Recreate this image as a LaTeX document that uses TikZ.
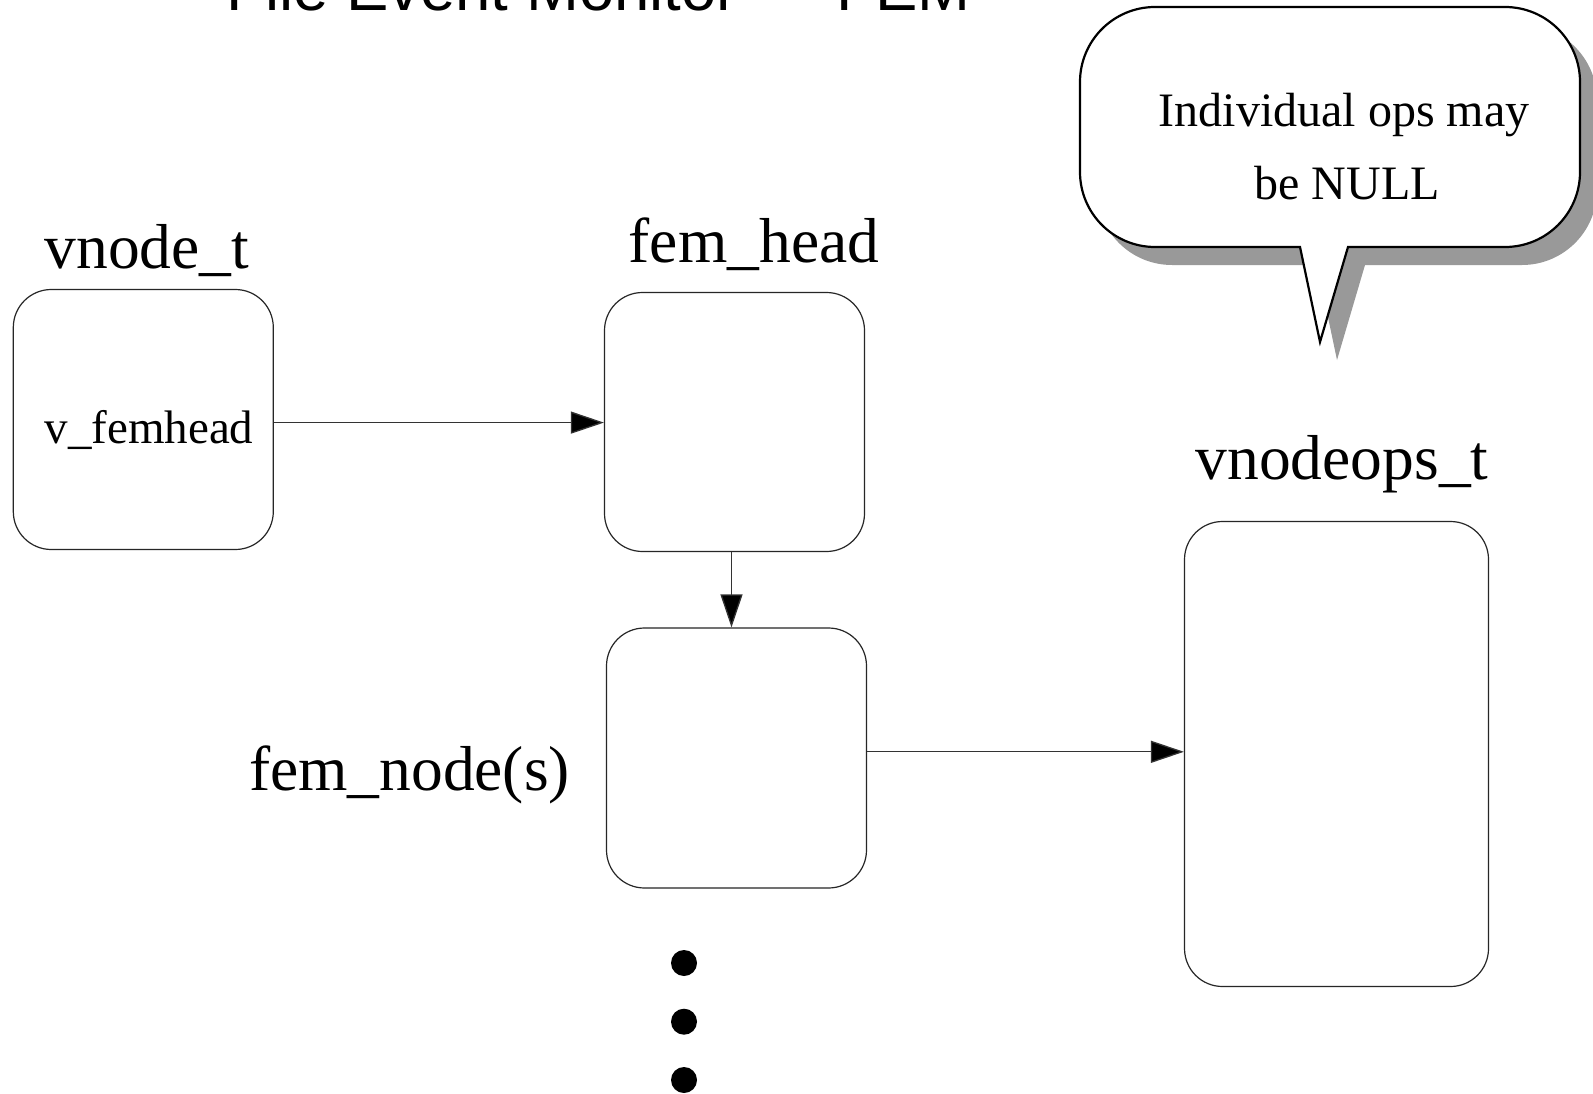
\documentclass[tikz,border=0pt]{standalone}
\usepackage{fontspec}
\setmainfont{Liberation Serif}
\newfontfamily\titlefont{Liberation Sans}
\usetikzlibrary{arrows.meta}
\tikzset{
  x=1pt,y=1pt,
  box/.style={draw=black!85,line width=1.2pt,rounded corners=38pt,fill=white,inner sep=0pt},
  arr/.style={draw=black!80,line width=1.3pt,-{Triangle[length=33pt,width=22pt,fill=black]}},
  biglabel/.style={font=\fontsize{63.5}{70}\selectfont,inner sep=0pt,anchor=base},
  smalllabel/.style={font=\fontsize{47}{72}\selectfont,inner sep=0pt,anchor=base},
  notelabel/.style={font=\fontsize{48}{72}\selectfont,inner sep=0pt,anchor=base},
  dotmark/.style={circle,fill=black,inner sep=0pt,minimum size=26pt},
}
\begin{document}
\begin{tikzpicture}
\useasboundingbox (0,0) rectangle (1593,-1094);
\clip (0,0) rectangle (1593,-1094);
\fill[white] (0,0) rectangle (1593,-1094);

% title (cut off at top, as in the reference)
\node[anchor=base west,inner sep=0pt,font=\titlefont\fontsize{63.5}{70}\selectfont] (title) at (226,-11) {File Event Monitor — FEM};

% callout shadow
\fill[black!40,shift={(17,-18)}]
  (1300,-247) -- (1320,-342) -- (1348,-247) -- (1505,-247)
  arc[start angle=270,end angle=360,radius=75] -- (1580,-82)
  arc[start angle=0,end angle=90,radius=75] -- (1155,-7)
  arc[start angle=90,end angle=180,radius=75] -- (1080,-172)
  arc[start angle=180,end angle=270,radius=75] -- cycle;
% callout
\draw[fill=white,line width=2.2pt,line join=miter]
  (1300,-247) -- (1320,-342) -- (1348,-247) -- (1505,-247)
  arc[start angle=270,end angle=360,radius=75] -- (1580,-82)
  arc[start angle=0,end angle=90,radius=75] -- (1155,-7)
  arc[start angle=90,end angle=180,radius=75] -- (1080,-172)
  arc[start angle=180,end angle=270,radius=75] -- cycle;
\node[notelabel] (note1) at (1344,-127) {Individual ops may};
\node[notelabel] (note2) at (1347,-200) {be NULL};

% boxes
\node[box,minimum width=260pt,minimum height=260pt] (vnode) at (143.3,-419.5) {};
\node[box,minimum width=260pt,minimum height=259pt] (femhead) at (734.5,-422) {};
\node[box,minimum width=260pt,minimum height=260pt] (femnode) at (736.5,-758) {};
\node[box,minimum width=304pt,minimum height=465pt] (vnodeops) at (1336.5,-754) {};

% labels
\node[biglabel] (lvnode) at (147,-268) {vnode\_t};
\node[smalllabel] (lvfem) at (149,-443) {v\_femhead};
\node[biglabel] (lfemhead) at (754,-262) {fem\_head};
\node[biglabel] (lfemnode) at (409.5,-790) {fem\_node(s)};
\node[biglabel] (lvnodeops) at (1342,-479.5) {vnodeops\_t};

% connectors
\draw[arr] (vnode.east |- 0,-422.6) -- (femhead.west |- 0,-422.6);
\draw[arr] (femhead.south -| 731.5,0) -- (femnode.north -| 731.5,0);
\draw[arr] (femnode.east |- 0,-751.8) -- (vnodeops.west |- 0,-751.8);

% continuation dots
\node[dotmark] (d1) at (684,-963) {};
\node[dotmark] (d2) at (684,-1021.7) {};
\node[dotmark] (d3) at (684,-1080) {};
\end{tikzpicture}
\end{document}
